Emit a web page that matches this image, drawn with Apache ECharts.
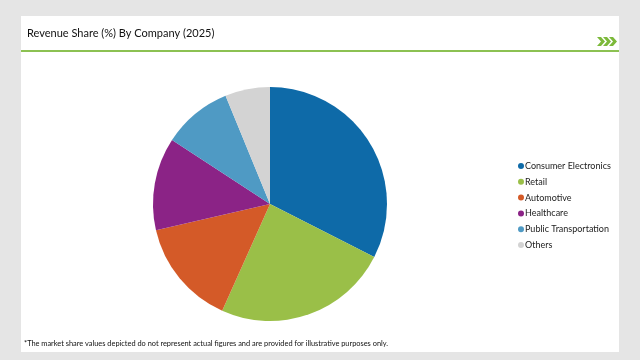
<!DOCTYPE html>
<html><head><meta charset="utf-8">
<script src="https://cdn.jsdelivr.net/npm/echarts@6/dist/echarts.min.js"></script>
<style>html,body{margin:0;padding:0;background:#e5e5e5;}#c{width:640px;height:360px;}</style>
</head><body><div id="c"></div>
<script>
const categories = ["Consumer Electronics","Retail","Automotive","Healthcare","Public Transportation","Others"];
const shares = [32.5, 24.2, 14.7, 12.8, 9.6, 6.2];
const colors = ["#0e6aa8","#9abf48","#d45a28","#8b2386","#4f9ac4","#d3d3d3"];
const titleText = "Revenue Share (%) By Company (2025)";
const footnote = "*The market share values depicted do not represent actual figures and are provided for illustrative purposes only.";

const chart = echarts.init(document.getElementById('c'), null, {renderer:'canvas'});
const FONT = 'Lato';
function chevron(x){
  return {type:'polygon', z:10, shape:{points:[[x,37],[x+4,37],[x+8,41.5],[x+4,46],[x,46],[x+4,41.5]]}, style:{fill:'#7cb93a'}};
}
chart.setOption({
  backgroundColor:'#e5e5e5',
  animation:false,
  color: colors,
  graphic:[
    {type:'rect', z:0, shape:{x:21,y:16,width:598,height:336}, style:{fill:'#ffffff'}},
    {type:'rect', z:1, shape:{x:21,y:50,width:598,height:2}, style:{fill:'#8cc152'}},
    chevron(597), chevron(603), chevron(609),
    {type:'text', z:10, left:24, top:340, style:{text:footnote, font:'7.4px '+FONT, fill:'#111'}}
  ],
  title:{text:titleText, left:22, top:23, textStyle:{fontFamily:FONT, fontSize:11, fontWeight:'normal', color:'#111'}},
  legend:{
    orient:'vertical', left:513, top:155, icon:'circle', itemWidth:6, itemHeight:6, itemGap:3.8,
    textStyle:{fontFamily:FONT, fontSize:9, color:'#222', lineHeight:12, padding:[0,0,0,-4]},
    data: categories
  },
  series:[{
    type:'pie', center:[270,204], radius:117, startAngle:90, clockwise:true,
    label:{show:false}, labelLine:{show:false},
    itemStyle:{borderWidth:0},
    emphasis:{disabled:true},
    data: categories.map((n,i)=>({name:n, value:shares[i]}))
  }]
});
</script></body></html>
